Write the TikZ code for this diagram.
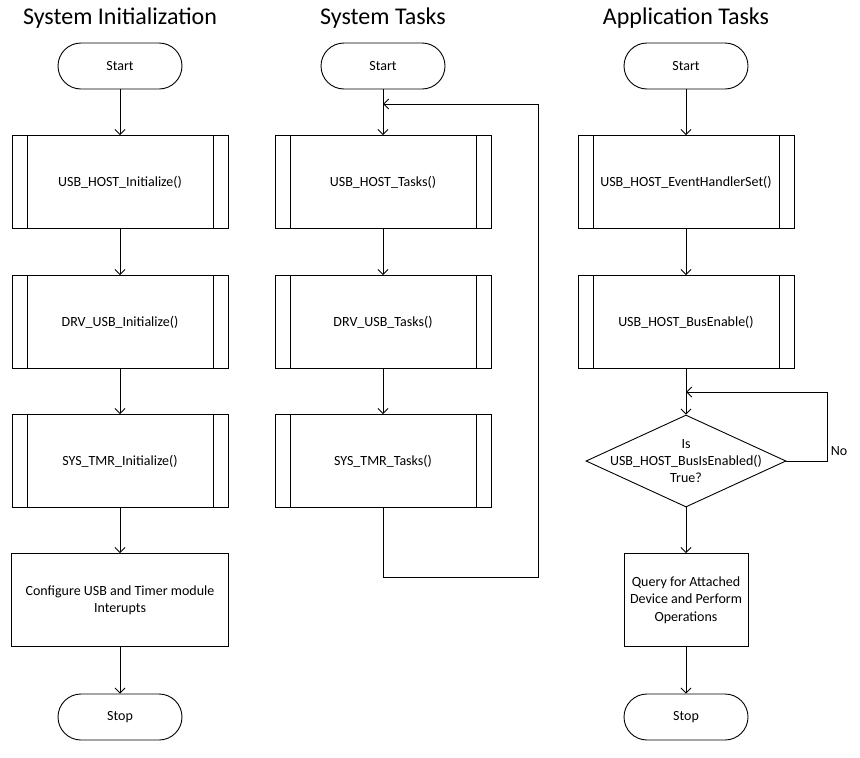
\documentclass[tikz,border=0pt]{standalone}
\usepackage{fontspec}
\setmainfont{Carlito}
\usetikzlibrary{shapes,arrows.meta,positioning,calc}

\begin{document}
\begin{tikzpicture}[x=1pt, y=-1pt, line width=0.9pt,
    terminal/.style={rectangle, draw, rounded corners=23pt, minimum width=124pt, minimum height=46pt, font=\fontsize{14}{17}\selectfont},
    predef/.style={rectangle, draw, minimum width=216pt, minimum height=93pt, font=\fontsize{14}{17}\selectfont,
        path picture={\draw[line width=0.9pt] ([xshift=15pt]path picture bounding box.north west) -- ([xshift=15pt]path picture bounding box.south west);
                      \draw[line width=0.9pt] ([xshift=-15pt]path picture bounding box.north east) -- ([xshift=-15pt]path picture bounding box.south east);}},
    process/.style={rectangle, draw, align=center, minimum height=93pt, font=\fontsize{14}{17}\selectfont},
    decision/.style={diamond, draw, minimum width=200pt, minimum height=92pt, inner sep=0pt},
    title/.style={font=\fontsize{24}{28}\selectfont},
    arrow/.style={-{Straight Barb[length=5pt,width=10pt]}}]

    \useasboundingbox (0,0) rectangle (860,758);

    % titles
    \node[title] (tinit) at (120,18) {System Initialization};
    \node[title] (tsys) at (383,18) {System Tasks};
    \node[title] (tapp) at (686,18) {Application Tasks};

    % system initialization
    \node[terminal] (start1) at (120,66) {Start};
    \node[predef] (hostinit) at (120,182) {USB\_HOST\_Initialize()};
    \node[predef] (drvinit) at (120,322) {DRV\_USB\_Initialize()};
    \node[predef] (tmrinit) at (120,461) {SYS\_TMR\_Initialize()};
    \node[process, minimum width=217pt] (config) at (120,600) {Configure USB and Timer module\\Interupts};
    \node[terminal] (stop1) at (120,717) {Stop};

    \draw[arrow] (start1) -- (hostinit);
    \draw[arrow] (hostinit) -- (drvinit);
    \draw[arrow] (drvinit) -- (tmrinit);
    \draw[arrow] (tmrinit) -- (config);
    \draw[arrow] (config) -- (stop1);

    % system tasks
    \node[terminal] (start2) at (383,66) {Start};
    \node[predef] (hosttask) at (383,182) {USB\_HOST\_Tasks()};
    \node[predef] (drvtask) at (383,322) {DRV\_USB\_Tasks()};
    \node[predef] (tmrtask) at (383,461) {SYS\_TMR\_Tasks()};
    \coordinate (loopin) at (383,104);

    \draw[arrow] (start2) -- (hosttask);
    \draw[arrow] (hosttask) -- (drvtask);
    \draw[arrow] (drvtask) -- (tmrtask);
    \draw[arrow] (tmrtask.south) |- (538,577) |- (loopin);

    % application tasks
    \node[terminal] (start3) at (686,66) {Start};
    \node[predef] (evset) at (686,182) {USB\_HOST\_EventHandlerSet()};
    \node[predef] (busen) at (686,322) {USB\_HOST\_BusEnable()};
    \node[decision] (busq) at (686,461) {};
    \node[align=center, font=\fontsize{14}{17}\selectfont] (busqtext) at (busq) {Is\\USB\_HOST\_BusIsEnabled()\\True?};
    \node[process, minimum width=124pt, font=\fontsize{14}{17.5}\selectfont] (query) at (686,600) {Query for Attached\\Device and Perform\\Operations};
    \node[terminal] (stop3) at (686,717) {Stop};
    \coordinate (busin) at (686,392);
    \node[font=\fontsize{14}{17}\selectfont] (nolbl) at (839,451) {No};

    \draw[arrow] (start3) -- (evset);
    \draw[arrow] (evset) -- (busen);
    \draw[arrow] (busen) -- (busq.north);
    \draw[arrow] (busq.east) -- (827,461) |- (busin);
    \draw[arrow] (busq.south) -- (query);
    \draw[arrow] (query) -- (stop3);
\end{tikzpicture}
\end{document}
